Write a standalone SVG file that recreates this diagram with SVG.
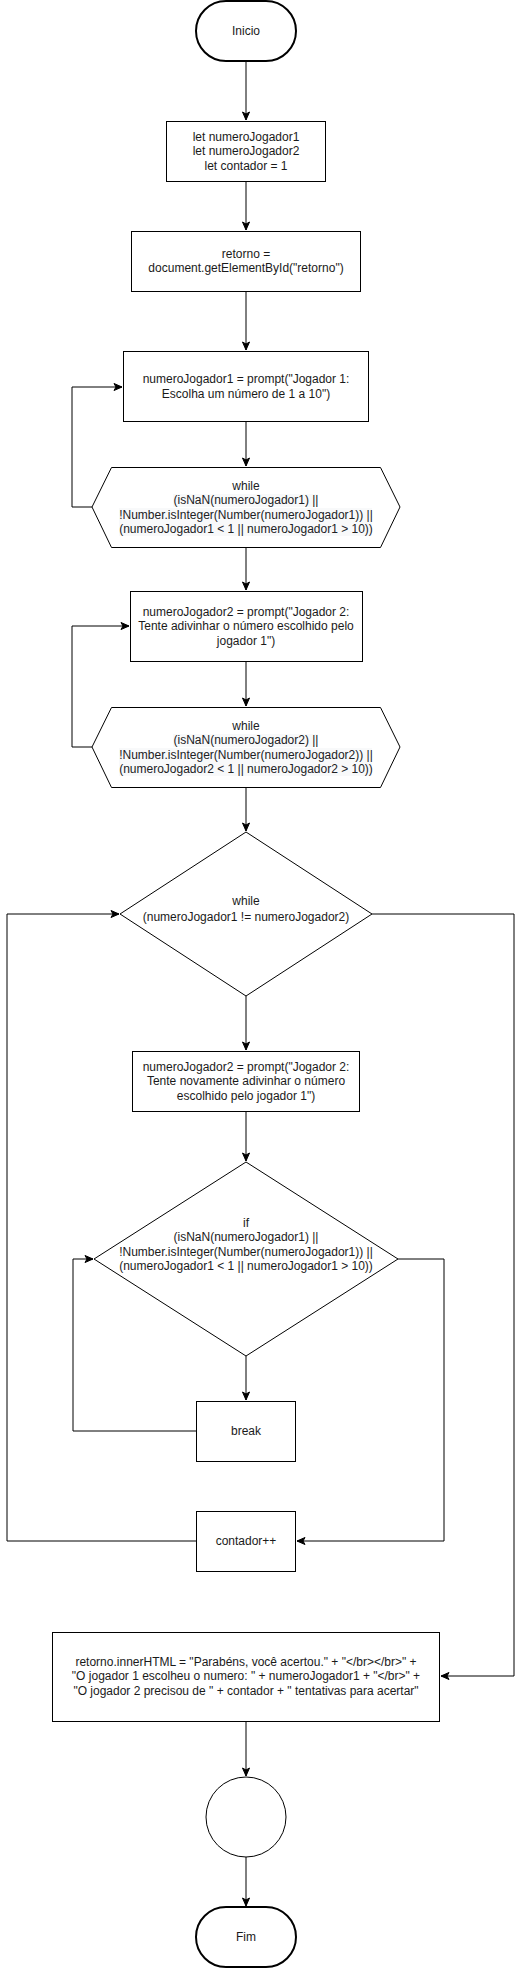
<svg xmlns="http://www.w3.org/2000/svg" width="526" height="1968" viewBox="0 0 526 1968">
<style>
.s{fill:#fff;stroke:#000;stroke-width:1}
.t{fill:#fff;stroke:#000;stroke-width:2}
.c{fill:none;stroke:#000;stroke-width:1}
text{font-family:"Liberation Sans",Arial,Helvetica,sans-serif;font-size:12px;fill:#1a1a1a;text-anchor:middle}
.g{fill:#202124}
.bg{fill:#f8f9fa;stroke:none}
</style>
<defs>
<marker id="a" markerUnits="userSpaceOnUse" markerWidth="10" markerHeight="10" viewBox="0 0 10 10" refX="9" refY="5" orient="auto">
<path d="M1,1.5 L9,5 L1,8.5 L3,5 Z" fill="#000" stroke="#000" stroke-width="1"/>
</marker>
</defs>
<rect width="526" height="1968" fill="#fff"/>
<g id="connectors">
<path class="c" d="M246,62 V120" marker-end="url(#a)"/>
<path class="c" d="M246,181 V230" marker-end="url(#a)"/>
<path class="c" d="M246,291 V350" marker-end="url(#a)"/>
<path class="c" d="M246,421 V466" marker-end="url(#a)"/>
<path class="c" d="M92,507 H72 V387 H122" marker-end="url(#a)"/>
<path class="c" d="M246,547 V590" marker-end="url(#a)"/>
<path class="c" d="M246,661 V706" marker-end="url(#a)"/>
<path class="c" d="M92,747 H72 V626 H129" marker-end="url(#a)"/>
<path class="c" d="M246,787 V831" marker-end="url(#a)"/>
<path class="c" d="M246,996 V1050" marker-end="url(#a)"/>
<path class="c" d="M246,1111 V1161" marker-end="url(#a)"/>
<path class="c" d="M246,1356 V1400" marker-end="url(#a)"/>
<path class="c" d="M196,1431 H73 V1259 H93" marker-end="url(#a)"/>
<path class="c" d="M398,1259 H444 V1541 H297" marker-end="url(#a)"/>
<path class="c" d="M196,1541 H7 V914 H119" marker-end="url(#a)"/>
<path class="c" d="M372,914 H514 V1676 H441" marker-end="url(#a)"/>
<path class="c" d="M246,1722 V1776" marker-end="url(#a)"/>
<path class="c" d="M246,1857 V1906" marker-end="url(#a)"/>
</g>
<g id="inicio">
<rect class="t" x="196" y="1" width="100" height="60" rx="30" ry="30"/>
<text x="246" y="35">Inicio</text>
</g>
<g id="decl">
<rect class="s" x="166.5" y="121.5" width="159" height="60"/>
<text x="246" y="141">let numeroJogador1</text>
<text x="246" y="155">let numeroJogador2</text>
<text x="246" y="170">let contador = 1</text>
</g>
<g id="retorno">
<rect class="s" x="131.5" y="231.5" width="229" height="60"/>
<text x="246" y="258">retorno =</text>
<text x="246" y="272">document.getElementById("retorno")</text>
</g>
<g id="prompt1">
<rect class="s" x="123.5" y="351.5" width="245" height="70"/>
<text x="246" y="383">numeroJogador1 = prompt("Jogador 1:</text>
<text x="246" y="398">Escolha um número de 1 a 10")</text>
</g>
<g id="while1">
<polygon class="s" points="111.5,467.5 380.5,467.5 400,507 380.5,547.5 111.5,547.5 92,507"/>
<rect class="bg" x="173" y="494" width="145" height="13"/>
<rect class="bg" x="119" y="508" width="253" height="14"/>
<rect class="bg" x="119" y="522" width="253" height="14"/>
<text class="g" x="246" y="490">while</text>
<text class="g" x="246" y="504">(isNaN(numeroJogador1) ||</text>
<text class="g" x="246" y="519">!Number.isInteger(Number(numeroJogador1)) ||</text>
<text class="g" x="246" y="533">(numeroJogador1 &lt; 1 || numeroJogador1 &gt; 10))</text>
</g>
<g id="prompt2">
<rect class="s" x="130.5" y="591.5" width="232" height="70"/>
<text x="246" y="616">numeroJogador2 = prompt("Jogador 2:</text>
<text x="246" y="630">Tente adivinhar o número escolhido pelo</text>
<text x="246" y="645">jogador 1")</text>
</g>
<g id="while2">
<polygon class="s" points="111.5,707.5 380.5,707.5 400,747 380.5,787.5 111.5,787.5 92,747"/>
<rect class="bg" x="173" y="734" width="145" height="13"/>
<rect class="bg" x="119" y="748" width="253" height="14"/>
<rect class="bg" x="119" y="762" width="253" height="14"/>
<text class="g" x="246" y="730">while</text>
<text class="g" x="246" y="744">(isNaN(numeroJogador2) ||</text>
<text class="g" x="246" y="759">!Number.isInteger(Number(numeroJogador2)) ||</text>
<text class="g" x="246" y="773">(numeroJogador2 &lt; 1 || numeroJogador2 &gt; 10))</text>
</g>
<g id="while3">
<polygon class="s" points="246,832 372,914 246,996 120,914"/>
<text x="246" y="905">while</text>
<text x="246" y="921">(numeroJogador1 != numeroJogador2)</text>
</g>
<g id="prompt3">
<rect class="s" x="132.5" y="1051.5" width="227" height="60"/>
<text x="246" y="1071">numeroJogador2 = prompt("Jogador 2:</text>
<text x="246" y="1085">Tente novamente adivinhar o número</text>
<text x="246" y="1100">escolhido pelo jogador 1")</text>
</g>
<g id="if1">
<polygon class="s" points="246,1162 398,1259 246,1356 94,1259"/>
<text x="246" y="1227">if</text>
<text x="246" y="1241">(isNaN(numeroJogador1) ||</text>
<text x="246" y="1256">!Number.isInteger(Number(numeroJogador1)) ||</text>
<text x="246" y="1270">(numeroJogador1 &lt; 1 || numeroJogador1 &gt; 10))</text>
</g>
<g id="break">
<rect class="s" x="196.5" y="1401.5" width="99" height="60"/>
<text x="246" y="1435">break</text>
</g>
<g id="contador">
<rect class="s" x="196.5" y="1511.5" width="99" height="60"/>
<text x="246" y="1545">contador++</text>
</g>
<g id="resultado">
<rect class="s" x="52.5" y="1632.5" width="387" height="89"/>
<text x="246" y="1666">retorno.innerHTML = "Parabéns, você acertou." + "&lt;/br&gt;&lt;/br&gt;" +</text>
<text x="246" y="1680">"O jogador 1 escolheu o numero: " + numeroJogador1 + "&lt;/br&gt;" +</text>
<text x="246" y="1695">"O jogador 2 precisou de " + contador + " tentativas para acertar"</text>
</g>
<g id="conector">
<circle class="s" cx="246" cy="1817" r="40"/>
</g>
<g id="fim">
<rect class="t" x="196" y="1907" width="100" height="60" rx="30" ry="30"/>
<text x="246" y="1941">Fim</text>
</g>
</svg>
